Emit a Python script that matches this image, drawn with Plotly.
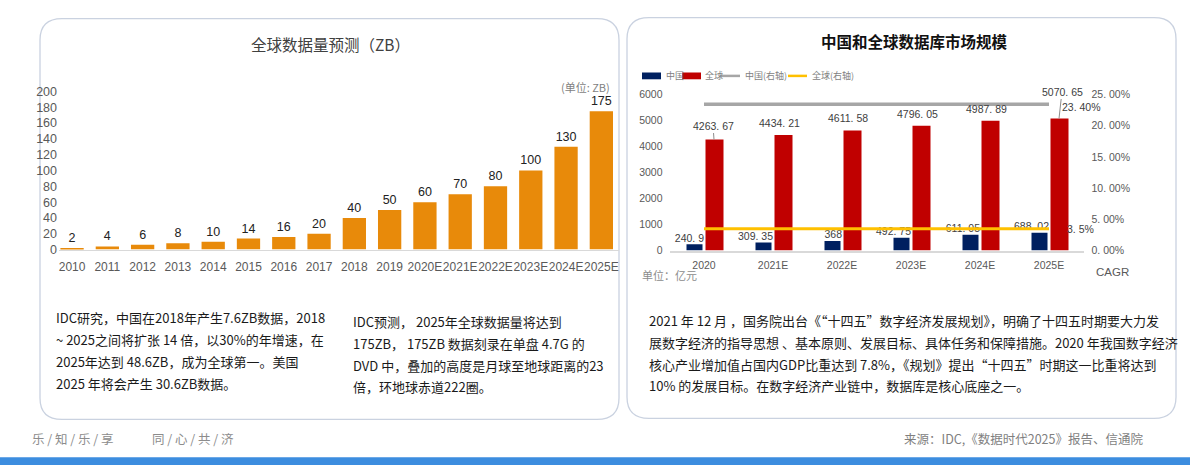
import plotly.graph_objects as go

W, H = 1190, 472

# ---------------- data ----------------
years = ["2010", "2011", "2012", "2013", "2014", "2015", "2016", "2017",
         "2018", "2019", "2020E", "2021E", "2022E", "2023E", "2024E", "2025E"]
global_zb = [2, 4, 6, 8, 10, 14, 16, 20, 40, 50, 60, 70, 80, 100, 130, 175]
zb_ticks = [0, 20, 40, 60, 80, 100, 120, 140, 160, 180, 200]

db_years = ["2020", "2021E", "2022E", "2023E", "2024E", "2025E"]
china_db = [240.9, 309.35, 368, 492.75, 611.05, 688.02]
global_db = [4263.67, 4434.21, 4611.58, 4796.05, 4987.89, 5070.65]
china_cagr = [23.40, 23.40, 23.40, 23.40, 23.40, 23.40]
global_cagr = [3.5, 3.5, 3.5, 3.5, 3.5, 3.5]
db_ticks = [0, 1000, 2000, 3000, 4000, 5000, 6000]
pct_ticks = [0, 5, 10, 15, 20, 25]
pct_ticktext = ["0. 00%", "5. 00%", "10. 00%", "15. 00%", "20. 00%", "25. 00%"]

series_names = ["中国", "全球", "中国(右轴)", "全球(右轴)"]
series_colors = ["#002060", "#C00000", "#A6A6A6", "#FFC000"]

left_title = "全球数据量预测（ZB）"
right_title = "中国和全球数据库市场规模"
left_block1 = ["IDC研究，中国在2018年产生7.6ZB数据，2018",
               "~ 2025之间将扩张 14 倍，以30%的年增速，在",
               "2025年达到 48.6ZB，成为全球第一。美国",
               "2025 年将会产生 30.6ZB数据。"]
left_block2 = ["IDC预测， 2025年全球数据量将达到",
               "175ZB， 175ZB 数据刻录在单盘 4.7G 的",
               "DVD 中，叠加的高度是月球至地球距离的23",
               "倍，环地球赤道222圈。"]
right_block = ["2021 年 12 月 ，国务院出台《“十四五”数字经济发展规划》，明确了十四五时期要大力发",
               "展数字经济的指导思想 、基本原则、发展目标、具体任务和保障措施。2020 年我国数字经济",
               "核心产业增加值占国内GDP比重达到 7.8%，《规划》提出“十四五”时期这一比重将达到",
               "10% 的发展目标。在数字经济产业链中，数据库是核心底座之一。"]

CJK = "Noto Sans CJK SC"
NUM = "Liberation Sans"


def px(x):
    return x / W


def py(y):
    return 1 - y / H


def fmt(v):
    return f"{v:g}".replace(".", ". ")


def rounded_rect(x0, y0, x1, y1, r):
    rx, ry = r / W, r / H
    X0, X1 = px(x0), px(x1)
    T, B = py(y0), py(y1)
    return (f"M {X0+rx},{T} L {X1-rx},{T} Q {X1},{T} {X1},{T-ry} "
            f"L {X1},{B+ry} Q {X1},{B} {X1-rx},{B} L {X0+rx},{B} "
            f"Q {X0},{B} {X0},{B+ry} L {X0},{T-ry} Q {X0},{T} {X0+rx},{T} Z")


fig = go.Figure()

# ---------------- left chart ----------------
fig.add_trace(go.Bar(
    x=years, y=global_zb, xaxis="x", yaxis="y",
    marker=dict(color="#E88A0A", line=dict(width=0)),
    width=0.66,
    text=[str(v) for v in global_zb], textposition="outside",
    textfont=dict(family=NUM, size=12.5, color="#222222"),
    constraintext="none", cliponaxis=False, showlegend=False,
    hoverinfo="skip",
))

# ---------------- right chart ----------------
cat_px = 69.0
annotations = []
lab_font = dict(family=NUM, size=10.5, color="#404040")

fig.add_trace(go.Bar(
    name=series_names[0], x=db_years, y=china_db, xaxis="x2", yaxis="y2",
    marker=dict(color=series_colors[0], line=dict(width=0)),
    width=16 / cat_px, offset=-17.5 / cat_px, hoverinfo="skip", showlegend=False,
))
fig.add_trace(go.Bar(
    name=series_names[1], x=db_years, y=global_db, xaxis="x2", yaxis="y2",
    marker=dict(color=series_colors[1], line=dict(width=0)),
    width=18 / cat_px, offset=1.5 / cat_px, hoverinfo="skip", showlegend=False,
))
fig.add_trace(go.Scatter(
    name=series_names[2], x=db_years, y=china_cagr, xaxis="x2", yaxis="y3",
    mode="lines", line=dict(color=series_colors[2], width=3.5), hoverinfo="skip",
    showlegend=False,
))
fig.add_trace(go.Scatter(
    name=series_names[3], x=db_years, y=global_cagr, xaxis="x2", yaxis="y3",
    mode="lines", line=dict(color=series_colors[3], width=3), hoverinfo="skip",
    showlegend=False,
))
# China value labels: sit above-left of each category centre, like the reference
fig.add_trace(go.Scatter(
    x=db_years, y=china_db, xaxis="x2", yaxis="y2", mode="text",
    text=[fmt(v) for v in china_db], textposition="top left",
    textfont=lab_font, showlegend=False, hoverinfo="skip", cliponaxis=False,
))

for i, v in enumerate(global_db):
    if i == 0:
        annotations.append(dict(x=i, y=v, xref="x2", yref="y2", text=fmt(v),
                                showarrow=True, arrowhead=0, arrowwidth=1,
                                arrowcolor="#8c8c8c", ax=-1, ay=-14, xshift=10,
                                font=lab_font))
    elif i == len(global_db) - 1:
        annotations.append(dict(x=i, y=v, xref="x2", yref="y2", text=fmt(v),
                                showarrow=True, arrowhead=0, arrowwidth=1,
                                arrowcolor="#8c8c8c", ax=3, ay=-27, xshift=10,
                                font=lab_font))
    else:
        annotations.append(dict(x=i, y=v, xref="x2", yref="y2", text=fmt(v),
                                showarrow=False, xshift=6, yshift=12, font=lab_font))
last = len(db_years) - 1
annotations.append(dict(x=last, y=china_cagr[-1], xref="x2", yref="y3",
                        text=f"{china_cagr[-1]:.2f}".replace(".", ". ") + "%",
                        showarrow=False, xshift=32, yshift=-3, font=lab_font))
annotations.append(dict(x=last, y=global_cagr[-1], xref="x2", yref="y3",
                        text=f"{global_cagr[-1]:g}".replace(".", ". ") + "%",
                        showarrow=False, xshift=31, yshift=0, font=lab_font))


def txt(x, y, s, size=13, color="#1a1a1a", anchor="left", family=CJK):
    annotations.append(dict(x=px(x), y=py(y), xref="paper", yref="paper", text=s,
                            showarrow=False, xanchor=anchor, yanchor="middle",
                            font=dict(family=family, size=size, color=color)))


# titles & captions
txt(330, 38, left_title, size=15.5, color="#404040", anchor="center")
txt(914, 35, "<b>" + right_title + "</b>", size=15.5, color="#111111", anchor="center")
txt(612, 82, "(单位: ZB)", size=11, color="#7f7f7f", anchor="right")
txt(640, 276, "单位：亿元", size=11, color="#8c8c8c")
txt(1094, 273, "CAGR", size=11.5, color="#595959", family=NUM)

for i, s in enumerate(left_block1):
    txt(54, 320 + i * 22.7, s)
for i, s in enumerate(left_block2):
    txt(351, 324 + i * 22.5, s)
for i, s in enumerate(right_block):
    txt(647, 323 + i * 22.5, s)

txt(30, 445, "乐 / 知 / 乐 / 享", size=12.5, color="#8c8c8c")
txt(150, 445, "同 / 心 / 共 / 济", size=12.5, color="#8c8c8c")
txt(1145, 445, "来源：IDC,《数据时代2025》报告、信通院", size=12.5, color="#7f7f7f", anchor="right")

shapes = [
    dict(type="path", xref="paper", yref="paper", path=rounded_rect(40, 12, 619, 425, 22),
         line=dict(color="#CAD2E0", width=1.3), fillcolor="rgba(0,0,0,0)", layer="below"),
    dict(type="path", xref="paper", yref="paper", path=rounded_rect(627, 11, 1176, 424, 22),
         line=dict(color="#CAD2E0", width=1.3), fillcolor="rgba(0,0,0,0)", layer="below"),
    dict(type="rect", xref="paper", yref="paper", x0=0, x1=1, y0=0, y1=py(464),
         line=dict(width=0), fillcolor="#3C8DDF", layer="below"),
]

# legend (drawn by hand to match the compact swatch style)
leg_y = 71
leg_items = [  # swatch x0, x1, kind, text x
    (642, 661, "rect", 664),
    (682, 701, "rect", 703),
    (721, 740, "line", 743),
    (788, 807, "line", 810),
]
for (x0, x1, kind, tx), name, col in zip(leg_items, series_names, series_colors):
    if kind == "rect":
        shapes.append(dict(type="rect", xref="paper", yref="paper",
                           x0=px(x0), x1=px(x1), y0=py(leg_y + 3.5), y1=py(leg_y - 3.5),
                           line=dict(width=0), fillcolor=col))
    else:
        shapes.append(dict(type="line", xref="paper", yref="paper",
                           x0=px(x0), x1=px(x1), y0=py(leg_y), y1=py(leg_y),
                           line=dict(color=col, width=2.5)))
    txt(tx, leg_y, name, size=9, color="#7f7f7f")

tickfont_l = dict(family=NUM, size=12.5, color="#595959")
tickfont_r = dict(family=NUM, size=10.5, color="#595959")

fig.update_layout(
    width=W, height=H,
    margin=dict(l=0, r=0, t=0, b=0),
    paper_bgcolor="white", plot_bgcolor="rgba(0,0,0,0)",
    barmode="overlay",
    showlegend=False,
    xaxis=dict(domain=[px(59), px(619)], anchor="y", type="category",
               range=[-0.37, 15.5], showgrid=False, zeroline=False,
               showline=True, linecolor="#D9D9D9", linewidth=1.2, ticks="",
               tickangle=0, tickfont=dict(family=NUM, size=12, color="#595959"),
               ticklabelstandoff=6, fixedrange=True),
    yaxis=dict(domain=[py(250), py(87)], anchor="x", range=[0, 200],
               tickvals=zb_ticks, showgrid=False, zeroline=False, showline=False,
               ticks="", tickfont=tickfont_l, ticklabelstandoff=1, fixedrange=True),
    xaxis2=dict(domain=[px(669.5), px(1083.5)], anchor="y2", type="category",
                range=[-0.5, 5.5], showgrid=False, zeroline=False,
                showline=True, linecolor="#D9D9D9", linewidth=1.5, ticks="",
                tickangle=0, tickfont=tickfont_r, ticklabelstandoff=4, fixedrange=True),
    yaxis2=dict(domain=[py(251), py(90)], anchor="x2", range=[0, 6000],
                tickvals=db_ticks, showgrid=False, zeroline=False, showline=False,
                ticks="", tickfont=tickfont_r, ticklabelstandoff=6, fixedrange=True),
    yaxis3=dict(overlaying="y2", anchor="x2", side="right", range=[0, 25],
                tickvals=pct_ticks, ticktext=pct_ticktext, showgrid=False,
                zeroline=False, showline=False, ticks="", tickfont=tickfont_r,
                ticklabelstandoff=7, fixedrange=True),
    annotations=annotations,
    shapes=shapes,
)

fig.write_html("out.html")
